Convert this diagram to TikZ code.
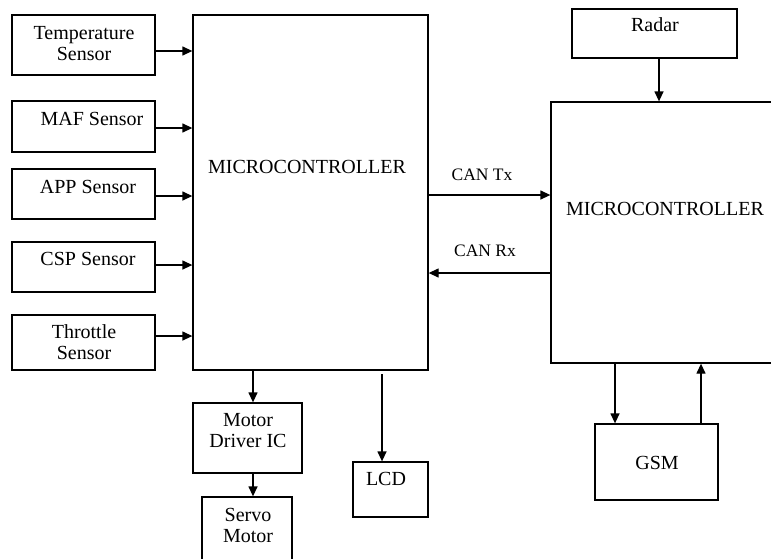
\documentclass[tikz,border=0pt]{standalone}
\usepackage{fontspec}
\setmainfont{Liberation Serif}
\usetikzlibrary{arrows.meta}
\begin{document}
\begin{tikzpicture}[x=1pt,y=-1pt,
  box/.style={draw, line width=1.3pt, rectangle, inner sep=0pt},
  lbl/.style={font=\fontsize{20}{21}\selectfont, align=center, inner sep=0pt},
  canl/.style={font=\fontsize{17.5}{19}\selectfont, inner sep=0pt},
  arr/.style={line width=1.3pt, -{Triangle[length=10pt,width=9pt]}}]
\useasboundingbox (0,0) rectangle (771,558);
% left sensors
\node[box, minimum width=143pt, minimum height=60pt] (temp) at (83.5,45) {};
\node[lbl] (tempT) at (84,44) {Temperature\\Sensor};
\node[box, minimum width=143pt, minimum height=51pt] (maf) at (83.5,126.5) {};
\node[lbl] (mafT) at (92,119) {MAF Sensor};
\node[box, minimum width=143pt, minimum height=50pt] (app) at (83.5,194) {};
\node[lbl] (appT) at (88,187) {APP Sensor};
\node[box, minimum width=143pt, minimum height=50pt] (csp) at (83.5,267) {};
\node[lbl] (cspT) at (88,259) {CSP Sensor};
\node[box, minimum width=143pt, minimum height=55pt] (thr) at (83.5,342.5) {};
\node[lbl] (thrT) at (84,342) {Throttle\\Sensor};
% microcontroller 1
\node[box, minimum width=235pt, minimum height=355pt] (mcu1) at (310.5,192.5) {};
\node[lbl] (mcu1T) at (307,167) {MICROCONTROLLER};
% microcontroller 2
\node[box, minimum width=222pt, minimum height=261pt] (mcu2) at (662,232.5) {};
\node[lbl] (mcu2T) at (665,209) {MICROCONTROLLER};
% radar
\node[box, minimum width=165pt, minimum height=49pt] (radar) at (654.5,33.5) {};
\node[lbl] (radarT) at (655,25) {Radar};
% bottom left
\node[box, minimum width=109pt, minimum height=70pt] (mdr) at (247.5,438) {};
\node[lbl] (mdrT) at (248,431) {Motor\\Driver IC};
\node[box, minimum width=90pt, minimum height=64pt] (servo) at (247,529) {};
\node[lbl] (servoT) at (248,525) {Servo\\Motor};
\node[box, minimum width=75pt, minimum height=55pt] (lcd) at (390.5,489.5) {};
\node[lbl] (lcdT) at (386,479) {LCD};
% GSM
\node[box, minimum width=123pt, minimum height=76pt] (gsm) at (656.5,462) {};
\node[lbl] (gsmT) at (657,463) {GSM};
% CAN labels
\node[canl] (txT) at (482,175) {CAN Tx};
\node[canl] (rxT) at (485,251) {CAN Rx};
% connectors
\draw[arr] ([yshift=-6pt]temp.east) -- ([yshift=-6pt]temp.east -| mcu1.west);
\draw[arr] ([yshift=-1.5pt]maf.east) -- ([yshift=-1.5pt]maf.east -| mcu1.west);
\draw[arr] ([yshift=-2pt]app.east) -- ([yshift=-2pt]app.east -| mcu1.west);
\draw[arr] ([yshift=2pt]csp.east) -- ([yshift=2pt]csp.east -| mcu1.west);
\draw[arr] ([yshift=6.5pt]thr.east) -- ([yshift=6.5pt]thr.east -| mcu1.west);
\coordinate (tx) at (428,195);
\coordinate (rx) at (551,273);
\draw[arr] (tx) -- (tx -| mcu2.west);
\draw[arr] (rx) -- (rx -| mcu1.east);
\draw[arr] (radar.south -| 659,0) -- (mcu2.north -| 659,0);
\coordinate (md) at (253,370);
\draw[arr] (md) -- (md |- mdr.north);
\draw[arr] (mdr.south -| md) -- (servo.north -| md);
\coordinate (lc) at (382,374);
\draw[arr] (lc) -- (lc |- lcd.north);
\coordinate (gd) at (615,363);
\coordinate (gu) at (701,424);
\draw[arr] (gd) -- (gd |- gsm.north);
\draw[arr] (gu) -- (gu |- mcu2.south);
\end{tikzpicture}
\end{document}
